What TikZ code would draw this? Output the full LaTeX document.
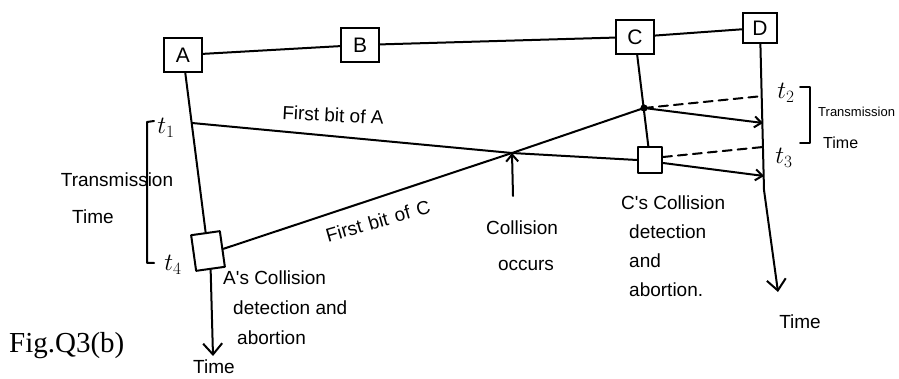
\documentclass[tikz,border=0pt]{standalone}
\usepackage{fontspec}
\setmainfont{Liberation Serif}
\newfontfamily\handfont{Liberation Sans}
\usetikzlibrary{arrows.meta,calc}
\begin{document}
\begin{tikzpicture}[x=1pt,y=-1pt,
  ln/.style={line width=2pt, line cap=round, line join=round},
  station/.style={draw, line width=2.2pt, minimum width=38pt, minimum height=34pt, inner sep=0pt, font=\handfont\fontsize{21}{22}\selectfont},
  hand/.style={font=\handfont\fontsize{19}{28}\selectfont, inner sep=1pt},
  tlabel/.style={font=\fontsize{23}{24}\selectfont, inner sep=1pt},
  tip/.style={-{Straight Barb[length=7pt,width=11pt]}},
  bigtip/.style={-{Straight Barb[length=11pt,width=19pt]}},
  dsh/.style={ln, dash pattern=on 9pt off 6pt},
]
\useasboundingbox (0,0) rectangle (899,379);
% stations
\node[station] (A) at (183,55) {A};
\node[station] (B) at (360,45) {B};
\node[station] (C) at (635,37) {C};
\node[station, minimum width=34pt, minimum height=30pt] (D) at (760,28) {D};
\draw[ln] (A) -- (B) -- (C) -- (D);
% detection boxes
\node[draw, ln, minimum width=29pt, minimum height=36pt, rotate=8] (sa) at (208,251) {};
\node[draw, ln, minimum width=24pt, minimum height=26pt] (sc) at (650,160) {};
% coordinates
\coordinate (a1) at (192,123);
\coordinate (X) at (512,153);
\coordinate (cd) at (644,108);
\coordinate (d2) at (763,96);
\coordinate (d2s) at (763,123);
\coordinate (d3) at (763,147);
\coordinate (d3s) at (764,176);
\coordinate (dbend) at (764,190);
\coordinate (dend) at (778,292);
\coordinate (aend) at (213,356);
\coordinate (cu) at (513,196);
% time lines
\draw[ln] (A) -- (sa);
\draw[ln, bigtip] (sa.south) -- (aend);
\draw[ln] (C) -- (sc);
\draw[ln, bigtip] (D) -- (dbend) -- (dend);
\fill (cd) circle (3.6);
% signals
\draw[ln] (a1) -- (X) -- (sc.west);
\draw[ln, tip] ($(sc.east)+(0,3)$) -- (d3s);
\draw[dsh] ($(sc.east)+(0,-3)$) -- (d3);
\draw[ln] (sa.east) -- (X) -- (cd);
\draw[ln, tip] (cd) -- (d2s);
\draw[dsh] (cd) -- (d2);
% collision arrow
\node[hand, align=center, font=\handfont\fontsize{19}{36}\selectfont] (coll) at (522,246) {Collision\\\hspace{8pt}occurs};
\draw[ln, -{Straight Barb[length=7pt,width=12pt]}] (cu) -- (X);
% brackets
\draw[ln] (154,121) -- (147,122) -- (147,263) -- (154,263);
\draw[ln] (800,87) -- (810,87) -- (810,143) -- (800,143);
% labels
\node[hand, rotate=-3] (fa) at (333,115) {First bit of A};
\node[hand, rotate=16] (fc) at (378,221) {First\hspace{7pt}bit\hspace{7pt}of\hspace{7pt}C};
\node[hand] (ltr) at (117,180) {Transmission};
\node[hand] (lti) at (93,217) {Time};
\node[hand, anchor=west, font=\handfont\fontsize{13}{15}\selectfont] (rtr) at (817,112) {Transmission};
\node[hand, anchor=west, font=\handfont\fontsize{16}{17}\selectfont] (rti) at (822,143) {Time};
\node[tlabel] (lt1) at (166,128) {$t_1$};
\node[tlabel] (lt4) at (173,265) {$t_4$};
\node[tlabel] (lt2) at (786,93) {$t_2$};
\node[tlabel] (lt3) at (784,158) {$t_3$};
\node[hand, align=left, anchor=north west, font=\handfont\fontsize{19}{30}\selectfont] (atext) at (222,270) {A's Collision\\\hspace{10pt}detection and\\\hspace{14pt}abortion};
\node[hand, align=left, anchor=north west, font=\handfont\fontsize{19}{29}\selectfont] (ctext) at (620,195) {C's Collision\\\hspace{8pt}detection\\\hspace{8pt}and\\\hspace{8pt}abortion.};
\node[hand] (ta) at (214,367) {Time};
\node[hand] (td) at (800,322) {Time};
\node[anchor=west, inner sep=0pt, font=\fontsize{29}{30}\selectfont] (fig) at (9,346) {Fig.Q3(b)};
\end{tikzpicture}
\end{document}
